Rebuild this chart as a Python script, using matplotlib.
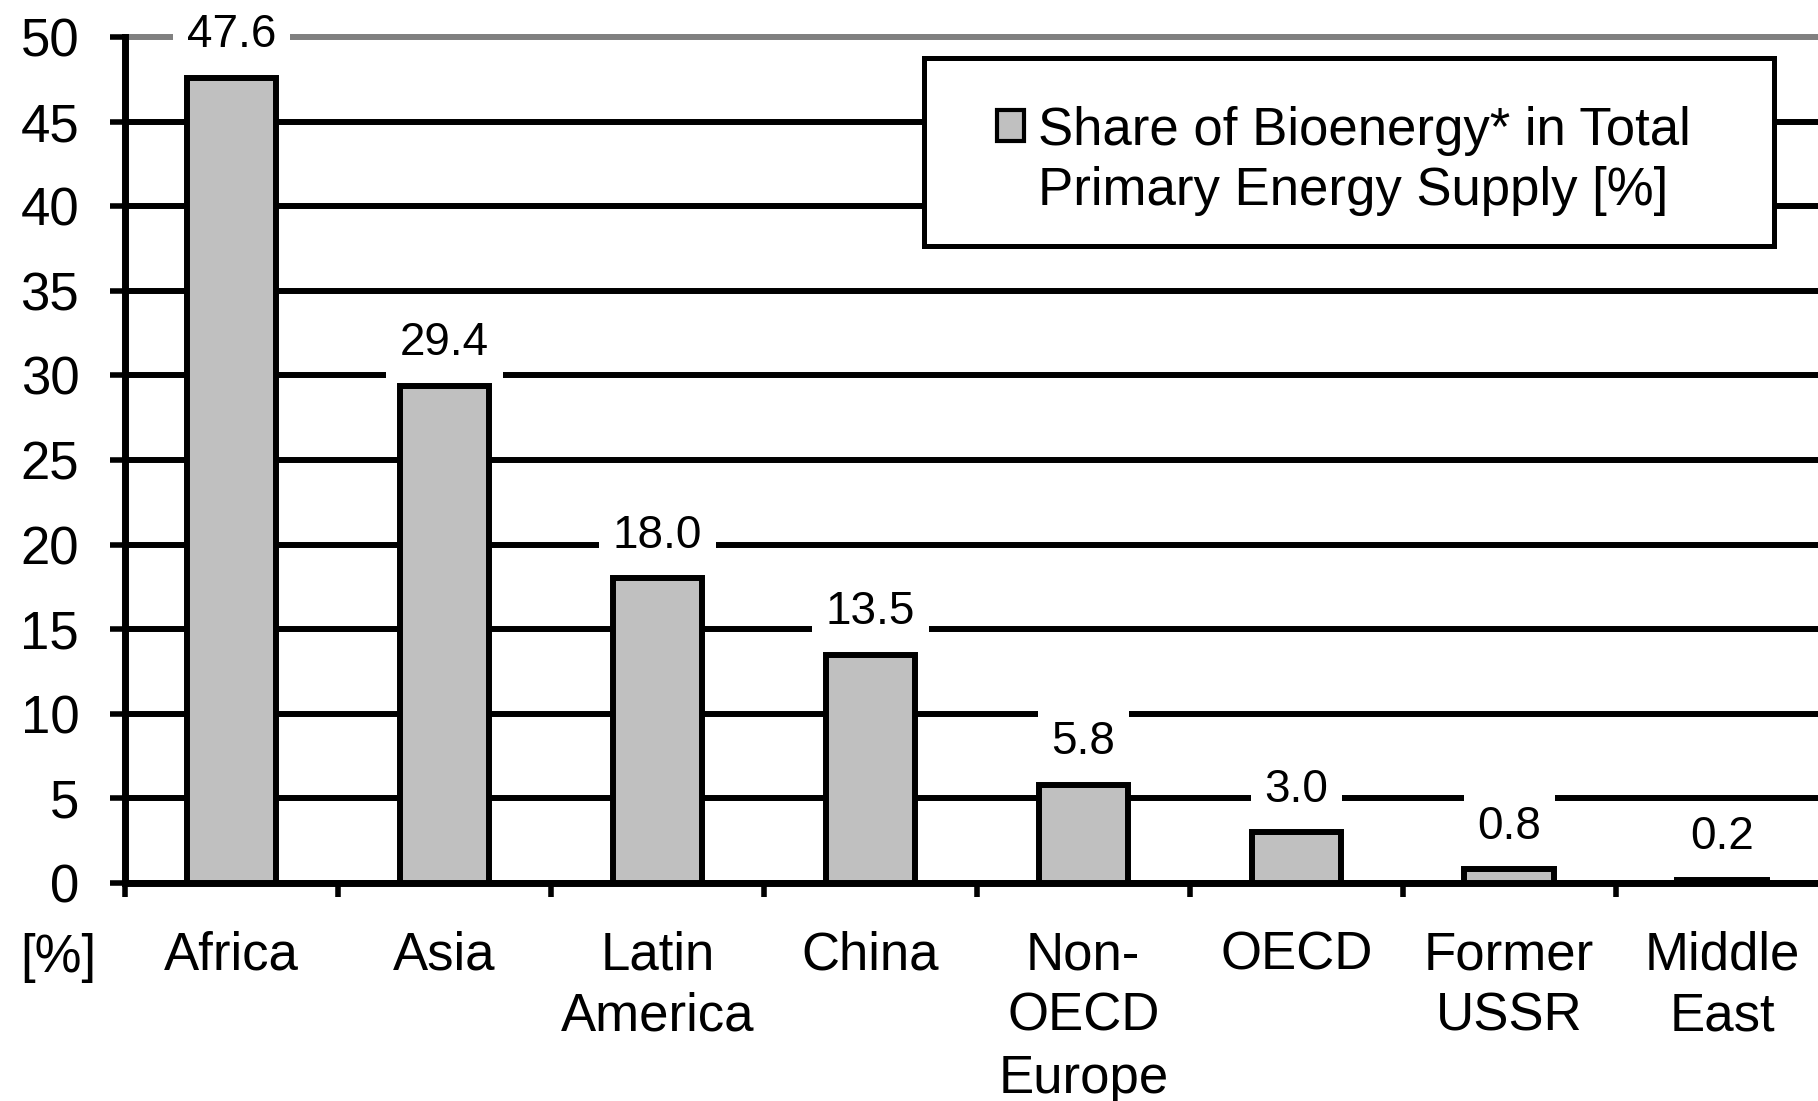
import numpy as np
import matplotlib.pyplot as plt
from matplotlib.patches import Rectangle

regions = ['Africa', 'Asia', 'Latin\nAmerica', 'China', 'Non-\nOECD\nEurope',
           'OECD', 'Former\nUSSR', 'Middle\nEast']
share = [47.6, 29.4, 18.0, 13.5, 5.8, 3.0, 0.8, 0.2]
yticks = [0, 5, 10, 15, 20, 25, 30, 35, 40, 45, 50]
legend_lines = ['Share of Bioenergy* in Total', 'Primary Energy Supply [%]']

W, H = 1818, 1101
plt.rcParams['font.family'] = ['Liberation Sans', 'DejaVu Sans']

fig = plt.figure(figsize=(W / 100, H / 100), dpi=100)
ax = fig.add_axes([125 / W, 218 / H, 1 - 125 / W, 846 / H])

x = np.arange(len(share))
ax.bar(x, share, width=0.42, color='#c0c0c0', edgecolor='black',
       linewidth=4.3, zorder=3)

ax.set_xlim(-0.5, 7.45)
ax.set_ylim(0, 50)

# y axis
ax.set_yticks(yticks)
ax.tick_params(axis='y', length=11, width=4, pad=22, labelsize=38)

# x axis: labels at centres, ticks between categories
ax.set_xticks(x)
ax.set_xticklabels(regions, fontsize=38, linespacing=1.3)
ax.tick_params(axis='x', which='major', length=0, pad=34)
ax.set_xticks(x - 0.5, minor=True)
ax.tick_params(axis='x', which='minor', length=10, width=4, direction='out')

for s in ['top', 'right']:
    ax.spines[s].set_visible(False)
for s in ['left', 'bottom']:
    ax.spines[s].set_linewidth(5)

# gridlines
ax.set_axisbelow(True)
ax.yaxis.grid(True, color='black', linewidth=4.3)
glines = ax.get_ygridlines()
for g in glines:
    g.set_clip_on(False)
glines[-1].set_color('#808080')

# value labels
for xi, v in zip(x, share):
    ax.annotate(f'{v:.1f}', xy=(xi, v), xytext=(0, 22), textcoords='offset points',
                ha='center', va='baseline', fontsize=33, zorder=4,
                bbox=dict(boxstyle='square,pad=0.3', fc='white', ec='none'))

# unit label under the y axis
fig.text(58 / W, 1 - 972 / H, '[%]', ha='center', va='baseline', fontsize=38)

# legend box
fig.add_artist(Rectangle((924 / W, 1 - 246 / H), 850 / W, 188 / H,
                         transform=fig.transFigure, facecolor='white',
                         edgecolor='black', linewidth=3.6, zorder=5))
fig.add_artist(Rectangle((997 / W, 1 - 141 / H), 27 / W, 31 / H,
                         transform=fig.transFigure, facecolor='#c0c0c0',
                         edgecolor='black', linewidth=3, zorder=6))
for i, line in enumerate(legend_lines):
    fig.text(1038 / W, 1 - (145 + 60 * i) / H, line, ha='left', va='baseline',
             fontsize=38, zorder=6)

fig.savefig('out.png', dpi=100)
